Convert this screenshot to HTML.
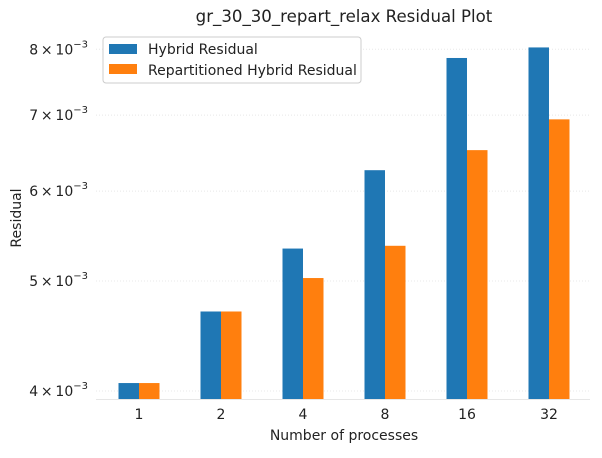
<!DOCTYPE html>
<html><head><meta charset="utf-8"><style>
body{margin:0;background:#fff}
svg text{font-family:"DejaVu Sans","Liberation Sans",sans-serif;fill:#222}
</style></head><body>
<svg id="chart" width="602" height="453" xmlns="http://www.w3.org/2000/svg">
<text x="344" y="22" font-size="16.6" text-anchor="middle">gr_30_30_repart_relax Residual Plot</text>
<g id="grid"></g><g id="bars"></g><g id="axes"></g>
<line x1="96" x2="590" y1="399.5" y2="399.5" stroke="#e6e6e6"/>
<text x="344" y="440" font-size="14" text-anchor="middle">Number of processes</text>
<text transform="translate(21,218) rotate(-90)" font-size="14" text-anchor="middle">Residual</text>
<g>
<rect x="103" y="37" width="258" height="46" rx="3" fill="#fff" stroke="#ccc"/>
<rect x="109" y="44" width="28" height="10" fill="#1f77b4"/>
<text x="148" y="54" font-size="14">Hybrid Residual</text>
<rect x="109" y="64" width="28" height="10" fill="#ff7f0e"/>
<text x="148" y="75" font-size="14">Repartitioned Hybrid Residual</text>
</g>
</svg>
<script>
const categories=["1","2","4","8","16","32"];
const hybrid=[4.065e-3,4.70e-3,5.34e-3,6.26e-3,7.86e-3,8.03e-3];
const repart=[4.065e-3,4.70e-3,5.03e-3,5.37e-3,6.52e-3,6.94e-3];
const yTicks=[4,5,6,7,8];
const NS="http://www.w3.org/2000/svg";
const X0=98,XW=82,YB=391,K=493;
function xs(i){return X0+XW*(i+0.5);}
function ys(v){return YB-K*Math.log(v/4e-3);}
const yMinPix=399.5;
function mk(t,a,p){const e=document.createElementNS(NS,t);for(const k in a)e.setAttribute(k,a[k]);p.appendChild(e);return e;}
const grid=document.getElementById('grid'),bars=document.getElementById('bars'),axes=document.getElementById('axes');
yTicks.forEach(t=>{const y=ys(t*1e-3);
const l=mk('line',{x1:96,x2:590,y1:y,y2:y,stroke:'#e8e8e8','stroke-dasharray':'1,2'},grid);


const tx=mk('text',{x:88,y:y+5,'font-size':'14','text-anchor':'end'},axes);


tx.innerHTML=t+'\u2009\u00d7\u200910<tspan dy="-7" font-size="10">\u22123</tspan>';});
categories.forEach((c,i)=>{const cx=xs(i);
const b1=mk('rect',{x:cx-20.5,y:ys(hybrid[i]),width:20.5,height:yMinPix-ys(hybrid[i]),fill:'#1f77b4'},bars);


const b2=mk('rect',{x:cx,y:ys(repart[i]),width:20.5,height:yMinPix-ys(repart[i]),fill:'#ff7f0e'},bars);


const t=mk('text',{x:cx,y:419,'font-size':'14','text-anchor':'middle'},axes);t.textContent=c;

});
</script>
</body></html>
